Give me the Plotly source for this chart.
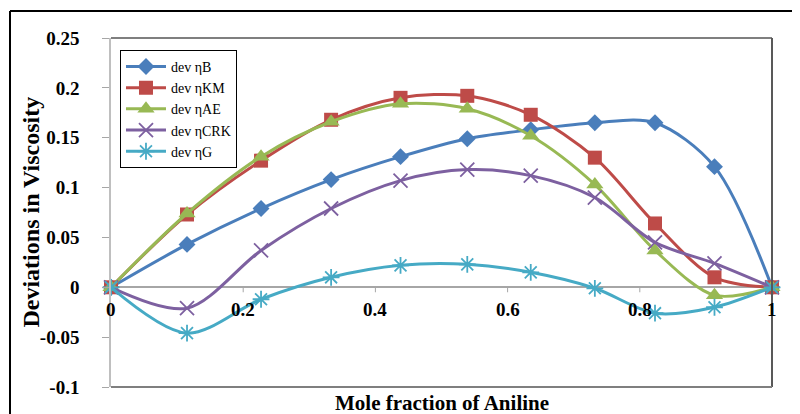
import plotly.graph_objects as go

x_frac = [0, 0.115, 0.227, 0.333, 0.438, 0.539, 0.635, 0.732, 0.823, 0.913, 1.0]

dev_B   = [0, 0.043, 0.079, 0.108, 0.131, 0.149, 0.158, 0.165, 0.165, 0.121, 0]
dev_KM  = [0, 0.073, 0.127, 0.168, 0.190, 0.192, 0.173, 0.130, 0.064, 0.010, 0]
dev_AE  = [0, 0.074, 0.131, 0.166, 0.184, 0.179, 0.152, 0.103, 0.037, -0.008, 0]
dev_CRK = [0, -0.021, 0.037, 0.079, 0.107, 0.118, 0.112, 0.090, 0.045, 0.024, 0]
dev_G   = [0, -0.046, -0.012, 0.010, 0.022, 0.023, 0.015, -0.001, -0.026, -0.020, 0]

series_names = ["dev \u03b7B", "dev \u03b7KM", "dev \u03b7AE", "dev \u03b7CRK", "dev \u03b7G"]
x_ticks = [0, 0.2, 0.4, 0.6, 0.8, 1]
x_tick_text = ["0", "0.2", "0.4", "0.6", "0.8", "1"]
y_ticks = [-0.1, -0.05, 0, 0.05, 0.1, 0.15, 0.2, 0.25]
y_tick_text = ["-0.1", "-0.05", "0", "0.05", "0.1", "0.15", "0.2", "0.25"]

colors = ["#4A7EBB", "#BE4B48", "#98B954", "#7D60A0", "#46AAC5"]
symbols = ["diamond", "square", "triangle-up", "x-thin-open", "asterisk-open"]
sizes = [13, 14, 15, 14, 14]
values = [dev_B, dev_KM, dev_AE, dev_CRK, dev_G]

SERIF = "Liberation Serif"

# the page body has an 8px margin; figure is sized so that the plot area lands
# at page pixels x 111..772, y 38..387
fig = go.Figure()
for name, vals, c, s, sz in zip(series_names, values, colors, symbols, sizes):
    mk = dict(symbol=s, size=sz, color=c)
    if s.endswith("open"):
        mk["line"] = dict(color=c, width=1.8)
    fig.add_trace(go.Scatter(
        x=x_frac, y=vals, name=name, mode="lines+markers",
        line=dict(color=c, width=3, shape="spline", smoothing=0.9),
        marker=mk, cliponaxis=False,
    ))

fig.update_layout(
    width=792, height=406,
    margin=dict(l=103, r=28, t=30, b=27),
    paper_bgcolor="white", plot_bgcolor="white",
    showlegend=True,
    legend=dict(
        x=0.0136, y=0.966, xanchor="left", yanchor="top",
        bordercolor="black", borderwidth=1, bgcolor="white",
        font=dict(family=SERIF, size=14, color="black"),
        tracegroupgap=0, itemwidth=40,
    ),
    xaxis=dict(
        range=[0, 1], showgrid=False, zeroline=False, showticklabels=False,
        showline=False, ticks="",
    ),
    yaxis=dict(
        range=[-0.1, 0.25], tickvals=y_ticks, ticktext=y_tick_text,
        showgrid=False, zeroline=True, zerolinecolor="#A6A6A6", zerolinewidth=1.5,
        showline=True, linecolor="#BFBFBF", linewidth=1.5,
        ticks="outside", ticklen=7, tickcolor="#A6A6A6", tickwidth=1,
        ticklabelstandoff=19,
        tickfont=dict(family=SERIF, size=19, color="black", weight="bold"),
    ),
)

# plot-area frame (top, right, bottom)
fig.add_shape(type="line", xref="paper", yref="paper", x0=0, x1=1, y0=1, y1=1,
              line=dict(color="#7F7F7F", width=2))
fig.add_shape(type="line", xref="paper", yref="paper", x0=1, x1=1, y0=0, y1=1,
              line=dict(color="#595959", width=2))
fig.add_shape(type="line", xref="paper", yref="paper", x0=0, x1=1, y0=0, y1=0,
              line=dict(color="#7F7F7F", width=2))

# x tick marks and labels on the zero line
for xv, xt in zip(x_ticks, x_tick_text):
    if 0 < xv < 1:
        fig.add_shape(type="line", xref="x", yref="y", x0=xv, x1=xv, y0=0, y1=-0.005,
                      line=dict(color="#A6A6A6", width=1))
    fig.add_annotation(x=xv, y=0, xref="x", yref="y", text=xt, showarrow=False,
                       xanchor="center", yanchor="top", yshift=-10,
                       font=dict(family=SERIF, size=19, color="black", weight="bold"))

# axis titles
fig.add_annotation(x=-0.1225, y=0.5, xref="paper", yref="paper",
                   xanchor="center", yanchor="middle",
                   text="Deviations in Viscosity", textangle=-90, showarrow=False,
                   font=dict(family=SERIF, size=24, color="black", weight="bold"))
fig.add_annotation(x=0.5, y=-0.046, xref="paper", yref="paper",
                   xanchor="center", yanchor="middle",
                   text="Mole fraction of Aniline", showarrow=False,
                   font=dict(family=SERIF, size=21, color="black", weight="bold"))

# outer chart border (top and left visible)
fig.add_shape(type="line", xref="paper", yref="paper",
              x0=(2 - 103) / 661, x1=(800 - 103) / 661,
              y0=(379 - 3) / 349, y1=(379 - 3) / 349,
              line=dict(color="black", width=2))
fig.add_shape(type="line", xref="paper", yref="paper",
              x0=(2 - 103) / 661, x1=(2 - 103) / 661,
              y0=(379 - 3) / 349, y1=(379 - 420) / 349,
              line=dict(color="black", width=2))

fig.write_html("out.html")
